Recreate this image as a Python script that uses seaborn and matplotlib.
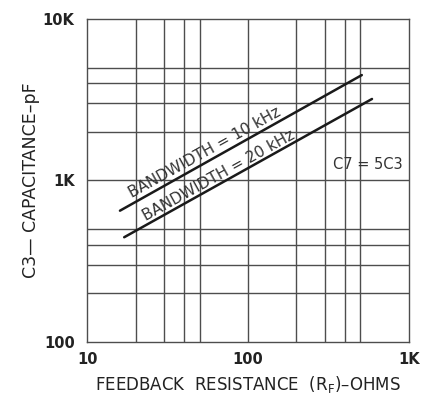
import pandas as pd
import matplotlib
matplotlib.use('Agg')
import matplotlib.pyplot as plt
import seaborn as sns
from matplotlib.ticker import FixedLocator, NullLocator, NullFormatter

sns.set_style('white')
plt.rcParams['font.family'] = ['Liberation Sans Narrow', 'DejaVu Sans Condensed', 'DejaVu Sans']

# Curve end points (log-log straight lines)
resistance_10k = [16, 510]
capacitance_10k = [650, 4500]
resistance_20k = [17, 590]
capacitance_20k = [445, 3200]

x_grid = [20, 30, 40, 50, 200, 300, 400, 500]
y_grid = [200, 300, 400, 500, 2000, 3000, 4000, 5000]
x_ticks = [10, 100, 1000]
x_tick_labels = ['10', '100', '1K']
y_ticks = [100, 1000, 10000]
y_tick_labels = ['100', '1K', '10K']

df = pd.concat([
    pd.DataFrame({'R': resistance_10k, 'C': capacitance_10k, 'bw': '10 kHz'}),
    pd.DataFrame({'R': resistance_20k, 'C': capacitance_20k, 'bw': '20 kHz'}),
])

fig = plt.figure(figsize=(4.25, 3.98), dpi=100)
ax = fig.add_axes([0.205, 0.141, 0.757, 0.811])

sns.lineplot(data=df, x='R', y='C', units='bw', estimator=None,
             color='#1a1a1a', linewidth=1.8, ax=ax, legend=False)

ax.set_xscale('log')
ax.set_yscale('log')
ax.set_xlim(10, 1000)
ax.set_ylim(100, 10000)

# grid lines
for v in x_grid + [100]:
    ax.axvline(v, color='#4d4d4d', linewidth=1.0, zorder=0)
for h in y_grid + [1000]:
    ax.axhline(h, color='#4d4d4d', linewidth=1.0, zorder=0)

ax.xaxis.set_major_locator(FixedLocator(x_ticks))
ax.yaxis.set_major_locator(FixedLocator(y_ticks))
ax.xaxis.set_minor_locator(NullLocator())
ax.yaxis.set_minor_locator(NullLocator())
ax.xaxis.set_minor_formatter(NullFormatter())
ax.yaxis.set_minor_formatter(NullFormatter())
ax.set_xticklabels(x_tick_labels, fontsize=10.5, fontweight='bold', color='#222')
ax.set_yticklabels(y_tick_labels, fontsize=10.5, fontweight='bold', color='#222')
ax.tick_params(axis='x', length=0, pad=7)
ax.tick_params(axis='y', length=0, pad=9)

for s in ax.spines.values():
    s.set_color('#4d4d4d')
    s.set_linewidth(1.0)

ax.set_xlabel('FEEDBACK  RESISTANCE  (R$_\\mathrm{F}$)\u2013OHMS',
              fontsize=12, color='#222', labelpad=5)
ax.set_ylabel('C3\u2014 CAPACITANCE\u2013pF', fontsize=12.5, color='#222', labelpad=2)

ax.text(54, 1500, 'BANDWIDTH = 10 kHz', rotation=29, ha='center', va='center',
        fontsize=11, color='#333')
ax.text(66, 1080, 'BANDWIDTH = 20 kHz', rotation=29, ha='center', va='center',
        fontsize=11, color='#333')
ax.text(556, 1265, 'C7 = 5C3', ha='center', va='center', fontsize=10.5, color='#333')

fig.savefig('out.png', dpi=100, facecolor='white')
